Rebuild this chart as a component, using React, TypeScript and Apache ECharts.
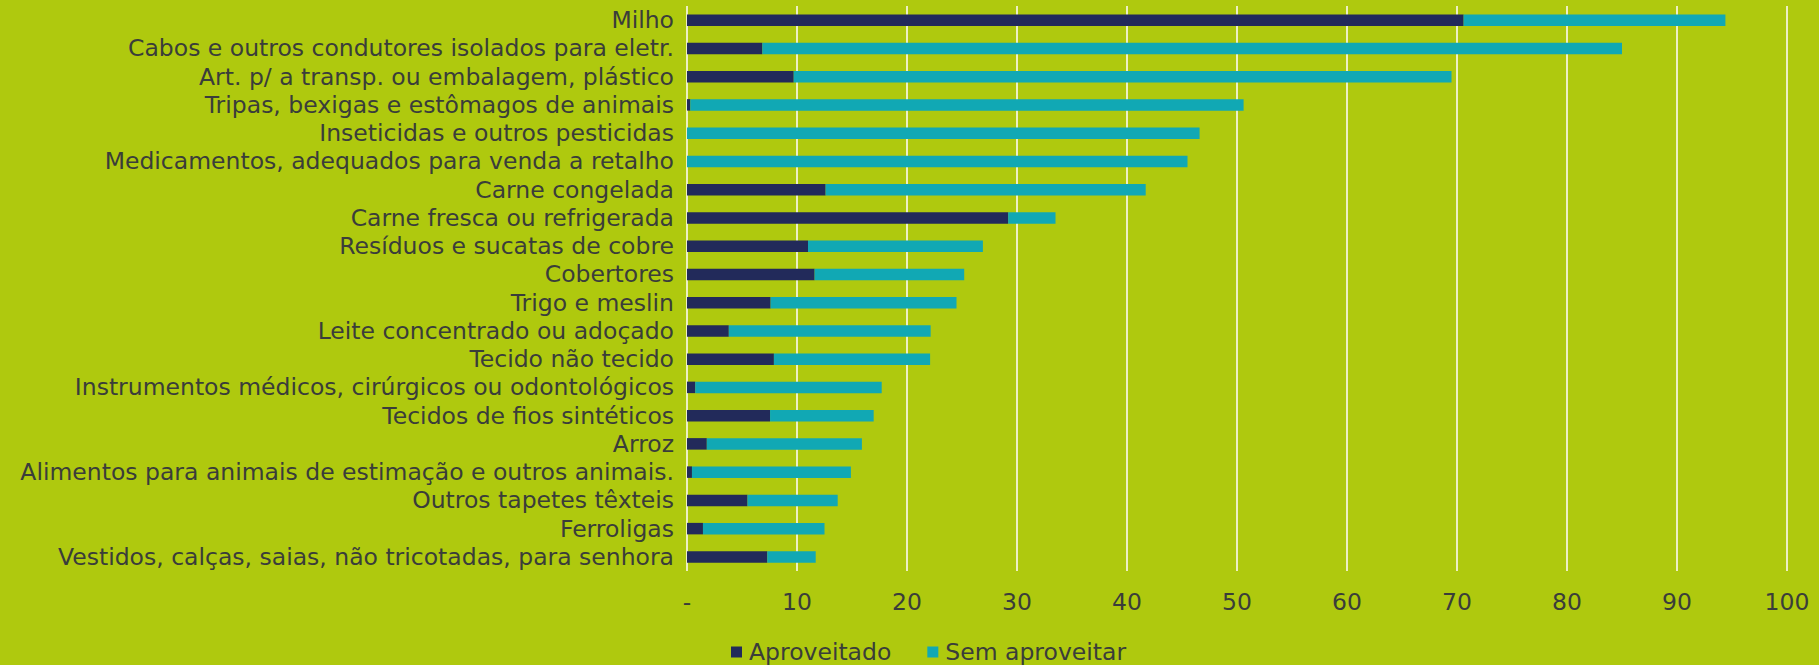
import React, { useEffect, useRef } from "react";
import * as echarts from "echarts";

const categories = [
  "Milho",
  "Cabos e outros condutores isolados para eletr.",
  "Art. p/ a transp. ou embalagem, plástico",
  "Tripas, bexigas e estômagos de animais",
  "Inseticidas e outros pesticidas",
  "Medicamentos, adequados para venda a retalho",
  "Carne congelada",
  "Carne fresca ou refrigerada",
  "Resíduos e sucatas de cobre",
  "Cobertores",
  "Trigo e meslin",
  "Leite concentrado ou adoçado",
  "Tecido não tecido",
  "Instrumentos médicos, cirúrgicos ou odontológicos",
  "Tecidos de fios sintéticos",
  "Arroz",
  "Alimentos para animais de estimação e outros animais.",
  "Outros tapetes têxteis",
  "Ferroligas",
  "Vestidos, calças, saias, não tricotadas, para senhora",
];

const aproveitado = [70.6, 6.85, 9.7, 0.3, 0, 0, 12.6, 29.2, 11.0, 11.6, 7.6, 3.8, 7.9, 0.75, 7.55, 1.8, 0.45, 5.5, 1.45, 7.3];
const semAproveitar = [23.8, 78.15, 59.8, 50.3, 46.6, 45.5, 29.1, 4.3, 15.9, 13.6, 16.9, 18.35, 14.2, 16.95, 9.42, 14.1, 14.45, 8.2, 11.05, 4.4];

const xTickLabels = ["-", "10", "20", "30", "40", "50", "60", "70", "80", "90", "100"];
const seriesNames = ["Aproveitado", "Sem aproveitar"];

const BG = "#AFC90E";
const TEXT = "#3A3D3A";
const FONT = "DejaVu Sans";
const FS = 23.5;

export default function App() {
  const ref = useRef<HTMLDivElement>(null);
  useEffect(() => {
    if (!ref.current) return;
    const chart = echarts.init(ref.current, undefined, { renderer: "svg" });
    chart.setOption({
      animation: false,
      backgroundColor: BG,
      textStyle: { fontFamily: FONT },
      grid: { left: 687, right: 32, top: 6, bottom: 94 },
      legend: {
        left: 726,
        top: 635,
        icon: "rect",
        itemWidth: 11,
        itemHeight: 11,
        itemGap: 36,
        textStyle: { color: TEXT, fontSize: FS, fontFamily: FONT, padding: [0, 0, 0, 2] },
        data: seriesNames,
      },
      xAxis: {
        type: "value",
        min: 0,
        max: 100,
        interval: 10,
        axisLine: { show: false },
        axisTick: { show: false },
        splitLine: { show: true, lineStyle: { color: "#EDEFC4", width: 2 } },
        axisLabel: {
          color: TEXT,
          fontSize: FS,
          fontFamily: FONT,
          margin: 19,
          formatter: (v: number) => xTickLabels[Math.round(v / 10)] ?? String(v),
        },
      },
      yAxis: {
        type: "category",
        inverse: true,
        data: categories,
        axisLine: { show: false },
        axisTick: { show: false },
        axisLabel: { color: TEXT, fontSize: FS, fontFamily: FONT, margin: 13, interval: 0 },
      },
      series: [
        {
          name: seriesNames[0],
          type: "bar",
          stack: "total",
          barWidth: 11.5,
          itemStyle: { color: "#222A5A" },
          data: aproveitado,
        },
        {
          name: seriesNames[1],
          type: "bar",
          stack: "total",
          barWidth: 11.5,
          itemStyle: { color: "#11A8B4" },
          data: semAproveitar,
        },
      ],
    });
    return () => chart.dispose();
  }, []);
  return (
    <div
      ref={ref}
      style={{ position: "fixed", left: 0, top: 0, width: 1819, height: 665, background: BG }}
    />
  );
}
